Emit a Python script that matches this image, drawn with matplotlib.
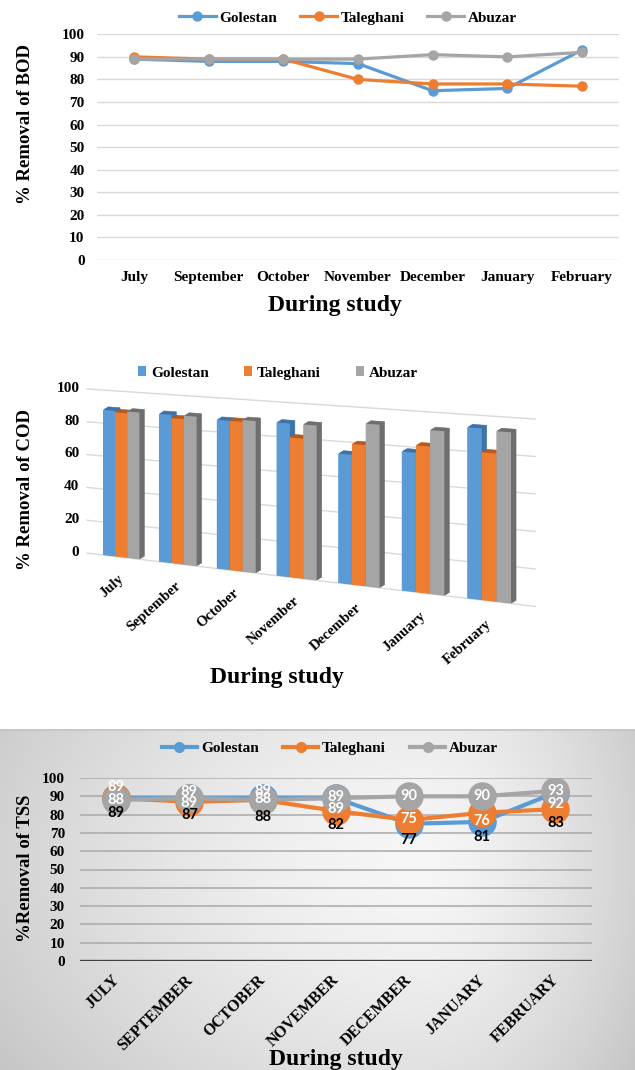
import numpy as np
import matplotlib
matplotlib.use("Agg")
import matplotlib.pyplot as plt
import matplotlib.transforms as mtransforms
from matplotlib.patches import Patch
from matplotlib.lines import Line2D

# ---------------- data ----------------
series_names = ["Golestan", "Taleghani", "Abuzar"]
months = ["July", "September", "October", "November", "December", "January", "February"]
months_upper = ["JULY", "SEPTEMBER", "OCTOBER", "NOVEMBER", "DECEMBER", "JANUARY", "FEBRUARY"]

bod_golestan = [89, 88, 88, 87, 75, 76, 93]
bod_taleghani = [90, 89, 89, 80, 78, 78, 77]
bod_abuzar = [89, 89, 89, 89, 91, 90, 92]

cod_golestan = [88, 88, 87, 88, 73, 77, 93]
cod_taleghani = [87, 86, 87, 80, 79, 81, 80]
cod_abuzar = [88, 88, 88, 88, 91, 90, 92]

tss_golestan = [89, 89, 89, 89, 75, 76, 92]
tss_taleghani = [89, 87, 88, 82, 77, 81, 83]
tss_abuzar = [88, 89, 88, 89, 90, 90, 93]

# ---------------- style ----------------
W, H = 635, 1070
BLUE, ORANGE, GRAY = "#5B9BD5", "#ED7D31", "#A5A5A5"
DARK = {BLUE: "#3E72A8", ORANGE: "#B85A1C", GRAY: "#6E6E6E"}
COLORS = [BLUE, ORANGE, GRAY]
SERIF = "Liberation Serif"
LABEL_FONT = "Lato"

# label offsets (points) for the TSS value labels
tss_golestan_off = [8.2, -3.7, 5.4, -8.0, 3.2, 0.9, -8.4]
tss_taleghani_off = [-10.5, -9.5, -12.0, -10.2, -14.4, -17.3, -10.3]
tss_abuzar_off = [0, 4.6, 0.5, 0.6, 0, 0, 0]

fig = plt.figure(figsize=(W / 100, H / 100), dpi=100)


def axes_px(left, top, right, bottom):
    return fig.add_axes([left / W, 1 - bottom / H, (right - left) / W, (bottom - top) / H])


def serif(size):
    return dict(family=SERIF, weight="bold", size=size)


# ================= BOD line chart =================
ax1 = axes_px(97, 34.3, 619, 260)
x = np.arange(len(months))
for vals, col, name in zip([bod_golestan, bod_taleghani, bod_abuzar], COLORS, series_names):
    ax1.plot(x, vals, color=col, lw=2.3, marker="o", ms=6.5, label=name)
ax1.set_xlim(-0.5, 6.5)
ax1.set_ylim(0, 100)
ax1.set_yticks(np.arange(0, 101, 10))
ax1.set_xticks(x)
ax1.set_xticklabels(months)
ax1.grid(axis="y", color="#d9d9d9", lw=1)
ax1.set_axisbelow(True)
for s in ax1.spines.values():
    s.set_visible(False)
ax1.tick_params(axis="y", length=0, pad=9)
ax1.tick_params(axis="x", length=0, pad=8)
for lab in ax1.get_xticklabels() + ax1.get_yticklabels():
    lab.set_fontproperties(serif(11))
h1, l1 = ax1.get_legend_handles_labels()
fig.legend(h1, l1, loc="center", bbox_to_anchor=(348 / W, 1 - 18 / H), ncol=3,
           frameon=False, prop=serif(11), handlelength=2.4, handletextpad=0.25,
           columnspacing=1.5)
fig.text(335 / W, 1 - 305 / H, "During study", ha="center", va="center", **serif(17))
fig.text(26 / W, 1 - 124 / H, "% Removal of BOD", rotation=90, ha="center", va="center",
         **serif(13.5))


# ================= COD 3-D column chart =================
class PanelProjection(mtransforms.Transform):
    """Maps (category position, value) onto a receding, perspective floor."""
    input_dims = 2
    output_dims = 2
    is_separable = False
    has_inverse = False

    def transform_non_affine(self, values):
        v = np.asarray(values, dtype=float).reshape(-1, 2)
        cx, h = v[:, 0], v[:, 1]
        X = 121.1 + 55.62 * cx + 0.95 * cx ** 2
        base = 555 + 0.119 * (X - 103)
        k = 1.64 + 0.00052 * (X - 85)
        return np.column_stack([X, base - h * k])


ax2 = fig.add_axes([0, 0, 1, 1])
ax2.set_autoscale_on(False)
ax2.set_xlim(0, W)
ax2.set_ylim(H, 0)
ax2.set_axis_off()
proj = PanelProjection() + ax2.transData

for v in range(0, 101, 20):
    ax2.plot([-0.62, 6.68], [v, v], transform=proj, color="#d9d9d9", lw=1, zorder=1)
    ax2.text(-0.76, v, str(v), transform=proj, ha="right", va="center", **serif(11))

bw = 0.218
depth_x, depth_y = 0.05, 0.03  # inches
z = 2
for g in range(len(months)):
    for i, (vals, col) in enumerate(zip([cod_golestan, cod_taleghani, cod_abuzar], COLORS)):
        xc = g + (i - 1) * bw
        for f in [1.0, 0.8, 0.6, 0.4, 0.2]:
            off = mtransforms.ScaledTranslation(f * depth_x, f * depth_y, fig.dpi_scale_trans)
            ax2.bar(xc, vals[g], width=bw, color=DARK[col], edgecolor=DARK[col], lw=0.4,
                    transform=proj + off, zorder=z)
        ax2.bar(xc, vals[g], width=bw, color=col, edgecolor="none", transform=proj, zorder=z + 0.5)
        z += 1

for g, name in enumerate(months):
    ax2.text(g - 0.06, -9.3, name, transform=proj, rotation=42, rotation_mode="anchor",
             ha="right", va="top", **serif(10.5))

fig.legend(handles=[Patch(facecolor=c) for c in COLORS], labels=series_names, loc="center",
           bbox_to_anchor=(278 / W, 1 - 373 / H), ncol=3, frameon=False, prop=serif(11),
           handlelength=0.55, handleheight=0.55, handletextpad=0.3, columnspacing=2.3)
fig.text(277 / W, 1 - 678 / H, "During study", ha="center", va="center", **serif(17))
fig.text(26 / W, 1 - 490 / H, "% Removal of COD", rotation=90, ha="center", va="center",
         **serif(13.5))

# ================= TSS line chart =================
axbg = axes_px(0, 729, 635, 1070)
gx = np.linspace(0, W, 320)
gy = np.linspace(729, H, 180)
GX, GY = np.meshgrid(gx, gy)
cxg, cyg = 420, 860
rx = np.where(GX < cxg, 420.0, 215.0)
r = np.sqrt(((GX - cxg) / rx) ** 2 + ((GY - cyg) / 300.0) ** 2)
shade = 0.965 - 0.14 * np.clip(r, 0, 1.3) ** 1.5
axbg.imshow(np.dstack([shade] * 3), extent=(0, W, H, 729), aspect="auto",
            interpolation="bilinear")
axbg.set_xlim(0, W)
axbg.set_ylim(H, 729)
axbg.set_axis_off()
axbg.axhline(729.5, color="#c4c4c4", lw=1.2)

ax3 = axes_px(79.5, 778, 592, 961)
ax3.patch.set_visible(False)
for vals, col in zip([tss_golestan, tss_taleghani, tss_abuzar], COLORS):
    ax3.plot(x, vals, color=col, lw=3, marker="o", ms=19.5, zorder=3)
ax3.set_xlim(-0.5, 6.5)
ax3.set_ylim(0, 100)
ax3.set_yticks(np.arange(0, 101, 10))
ax3.grid(axis="y", color="#a9a9a9", lw=1.1)
ax3.set_axisbelow(True)
ax3.axhline(0, color="#404040", lw=2.4, zorder=2)
for s in ax3.spines.values():
    s.set_visible(False)
ax3.tick_params(axis="y", length=0, pad=10.4)
ax3.tick_params(axis="x", length=0, pad=8.0)
ax3.set_xticks(x)
ax3.set_xticklabels(months_upper, rotation=45, ha="right", va="top", rotation_mode="anchor")
shift = mtransforms.ScaledTranslation(-0.05, 0, fig.dpi_scale_trans)
for lab in ax3.get_xticklabels():
    lab.set_fontproperties(serif(11.5))
    lab.set_transform(lab.get_transform() + shift)
for lab in ax3.get_yticklabels():
    lab.set_fontproperties(serif(11))

for vals, offs, tcol in [(tss_golestan, tss_golestan_off, "white"),
                         (tss_taleghani, tss_taleghani_off, "black"),
                         (tss_abuzar, tss_abuzar_off, "white")]:
    for i, (val, off) in enumerate(zip(vals, offs)):
        ax3.annotate(str(val), (i, val), xytext=(0, off), textcoords="offset points",
                     ha="center", va="center", color=tcol, family=LABEL_FONT,
                     weight="bold", size=10.5, zorder=5)

tss_handles = [Line2D([], [], color=c, lw=3, marker="o", ms=7) for c in COLORS]
fig.legend(tss_handles, series_names, loc="center", bbox_to_anchor=(330 / W, 1 - 748 / H),
           ncol=3, frameon=False, prop=serif(11), handlelength=2.3, handletextpad=0.25,
           columnspacing=1.6)
fig.text(336 / W, 1 - 1060 / H, "During study", ha="center", va="center", **serif(17))
fig.text(26 / W, 1 - 868 / H, "%Removal of TSS", rotation=90, ha="center", va="center",
         **serif(13.5))

fig.savefig("out.png", dpi=100)
